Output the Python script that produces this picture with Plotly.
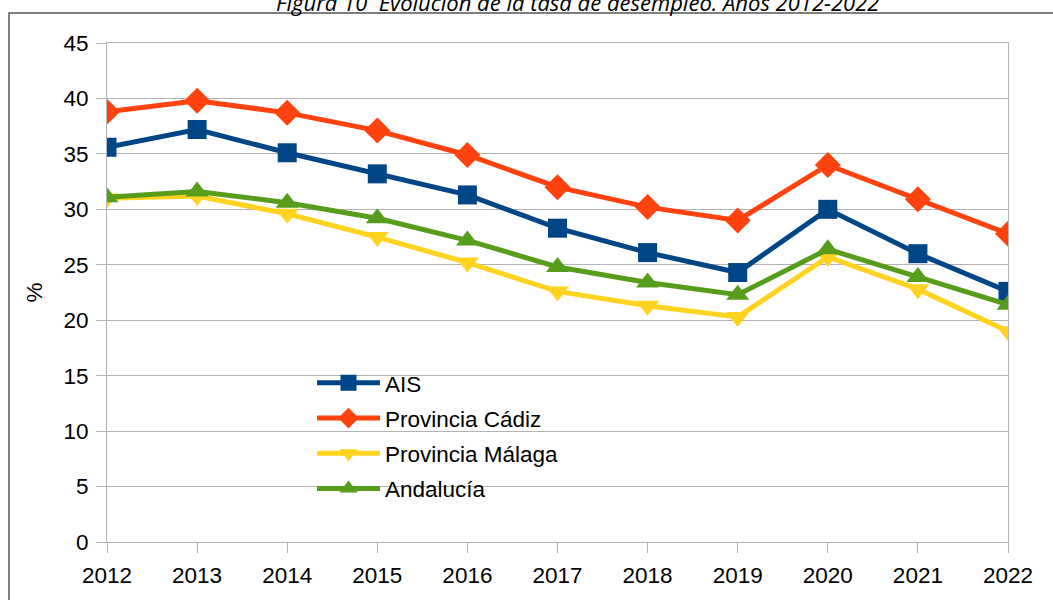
import plotly.graph_objects as go

years = [2012, 2013, 2014, 2015, 2016, 2017, 2018, 2019, 2020, 2021, 2022]
ais = [35.6, 37.2, 35.1, 33.2, 31.3, 28.3, 26.1, 24.3, 30.0, 26.0, 22.6]
cadiz = [38.8, 39.8, 38.7, 37.1, 34.9, 32.0, 30.2, 29.0, 34.0, 30.9, 27.8]
malaga = [31.0, 31.2, 29.6, 27.5, 25.2, 22.6, 21.3, 20.3, 25.7, 22.8, 19.0]
andalucia = [31.1, 31.6, 30.6, 29.2, 27.2, 24.8, 23.4, 22.3, 26.4, 23.9, 21.4]

series = [
    ("AIS", ais, "#004586", "square", 19),
    ("Provincia Cádiz", cadiz, "#ff420e", "diamond", 20),
    ("Provincia Málaga", malaga, "#ffd320", "triangle-down", 20),
    ("Andalucía", andalucia, "#579d1c", "triangle-up", 20),
]

fig = go.Figure()
for name, vals, color, sym, size in series:
    fig.add_trace(go.Scatter(
        x=years, y=vals, name=name, mode="lines+markers",
        legendgroup=name,
        line=dict(color=color, width=5),
        marker=dict(symbol=sym, size=size, color=color),
    ))

W, H = 1053, 600
L, R, T, B = 107, 45, 43, 56
pw, ph = W - L - R, H - T - B
FS = 22.5

fig.update_layout(
    width=W, height=H,
    margin=dict(l=L, r=R, t=T, b=B),
    paper_bgcolor="white", plot_bgcolor="white",
    font=dict(family="Liberation Sans, Arial, sans-serif", size=FS, color="black"),
    showlegend=True,
    legend=dict(
        x=(312 - L) / pw, y=(544 - 363) / ph, xanchor="left", yanchor="top",
        bgcolor="rgba(0,0,0,0)", font=dict(size=FS),
        traceorder="grouped", tracegroupgap=3, itemwidth=63,
    ),
    xaxis=dict(
        range=[2012, 2022], tickvals=years, ticktext=[str(y) for y in years],
        showgrid=False, showline=True, mirror=True, linecolor="#b3b3b3", linewidth=1,
        ticks="outside", ticklen=10, tickcolor="#b3b3b3", zeroline=False,
        ticklabelstandoff=3,
    ),
    yaxis=dict(
        range=[0, 45], dtick=5, showgrid=True, gridcolor="#b3b3b3", gridwidth=1,
        showline=True, mirror=True, linecolor="#b3b3b3", linewidth=1,
        ticks="outside", ticklen=10, tickcolor="#b3b3b3", zeroline=False,
        ticklabelstandoff=3,
        title=dict(text="%", standoff=14, font=dict(size=FS)),
    ),
    shapes=[dict(
        type="rect", xref="paper", yref="paper",
        x0=(9 - L) / pw, x1=1.2, y0=-0.3, y1=1 + (T - 13) / ph,
        line=dict(color="#555555", width=1.5), fillcolor="rgba(0,0,0,0)", layer="below",
    )],
    annotations=[dict(
        text="<i>Figura 10  Evolución de la tasa de desempleo. Años 2012-2022</i>",
        xref="paper", yref="paper", x=(577 - L) / pw, y=1 + (T - 18.5) / ph,
        xanchor="center", yanchor="bottom", showarrow=False,
        font=dict(family="Open Sans, sans-serif", size=22, color="black"),
    )],
)

fig.write_html("out.html", config={"displayModeBar": False},
               post_script="document.body.style.margin='0';")
